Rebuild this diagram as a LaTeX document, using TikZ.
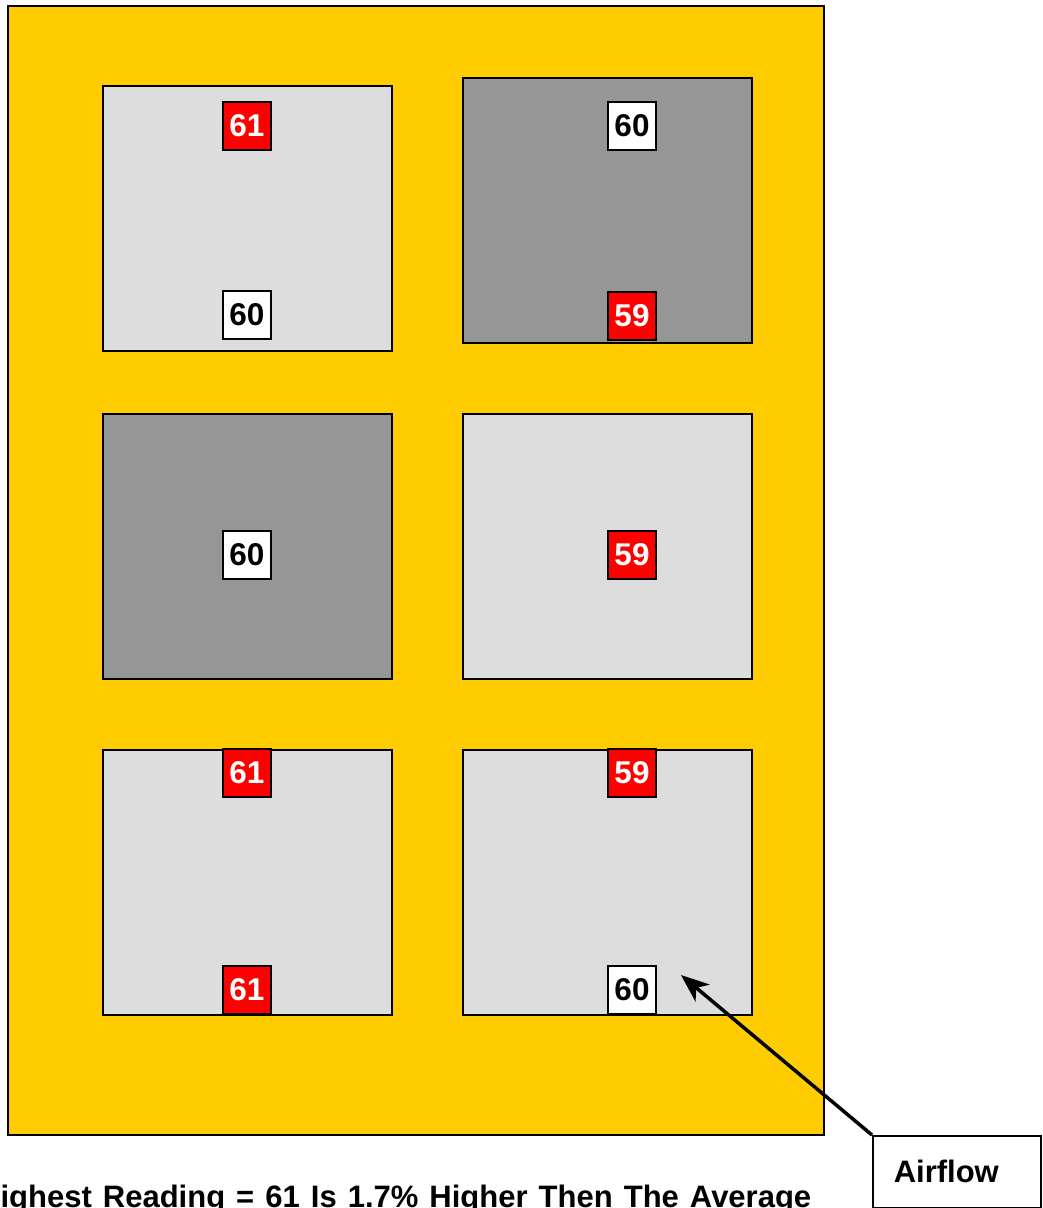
\documentclass[tikz,border=0pt]{standalone}
\usepackage{fontspec}
\setmainfont{Liberation Sans}
\usetikzlibrary{arrows.meta}
\definecolor{cabinet}{RGB}{255,204,0}
\definecolor{tilelight}{RGB}{221,221,221}
\definecolor{tiledark}{RGB}{150,150,150}
\definecolor{hot}{RGB}{255,0,0}

\begin{document}
\begin{tikzpicture}[x=1pt,y=-1pt,
  tile/.style={draw,line width=1.6pt},
  reading/.style={draw,line width=1.8pt,minimum width=48pt,minimum height=48pt,inner sep=0pt,font=\fontsize{31.5}{33}\selectfont\bfseries},
  hotreading/.style={reading,fill=hot,text=white},
  okreading/.style={reading,fill=white}]
  \useasboundingbox (0,0) rectangle (1042,1208);
  % cabinet and the six tiles (top-left corners, 289 x 265)
  \draw[fill=cabinet,line width=2pt] (8,6) rectangle (824,1135);
  \foreach \x/\y/\c in {103/86/tilelight,463/78/tiledark,103/414/tiledark,463/414/tilelight,103/750/tilelight,463/750/tilelight}
    \draw[tile,fill=\c] (\x,\y) rectangle +(289,265);
  % readings
  \foreach \n/\x/\y/\s/\t in {a/247/126/hotreading/61,b/247/315/okreading/60,c/632/126/okreading/60,d/632/316/hotreading/59,
    e/247/555/okreading/60,f/632/555/hotreading/59,g/247/773/hotreading/61,h/247/990/hotreading/61,i/632/773/hotreading/59,j/632/990/okreading/60}
    \node[\s] (r\n) at (\x,\y) {\t};
  % airflow callout
  \node[draw,line width=1.6pt,anchor=north west,text width=126pt,inner xsep=21pt,inner ysep=0pt,minimum height=72pt,align=left,font=\fontsize{31}{33}\selectfont\bfseries] (airflow) at (872,1135) {Airflow};
  \coordinate (flowtip) at (681,975);
  \draw[line width=3.5pt,-{Stealth[length=28pt,width=22pt,inset=8pt]}] (airflow.north west) -- (flowtip);
  \node[anchor=base west,inner sep=0pt,font=\fontsize{31}{33}\selectfont\bfseries] (summary) at (-22,1207)
    {\makebox[833pt][s]{Highest Reading = 61 Is 1.7\% Higher Then The Average}};
\end{tikzpicture}
\end{document}
